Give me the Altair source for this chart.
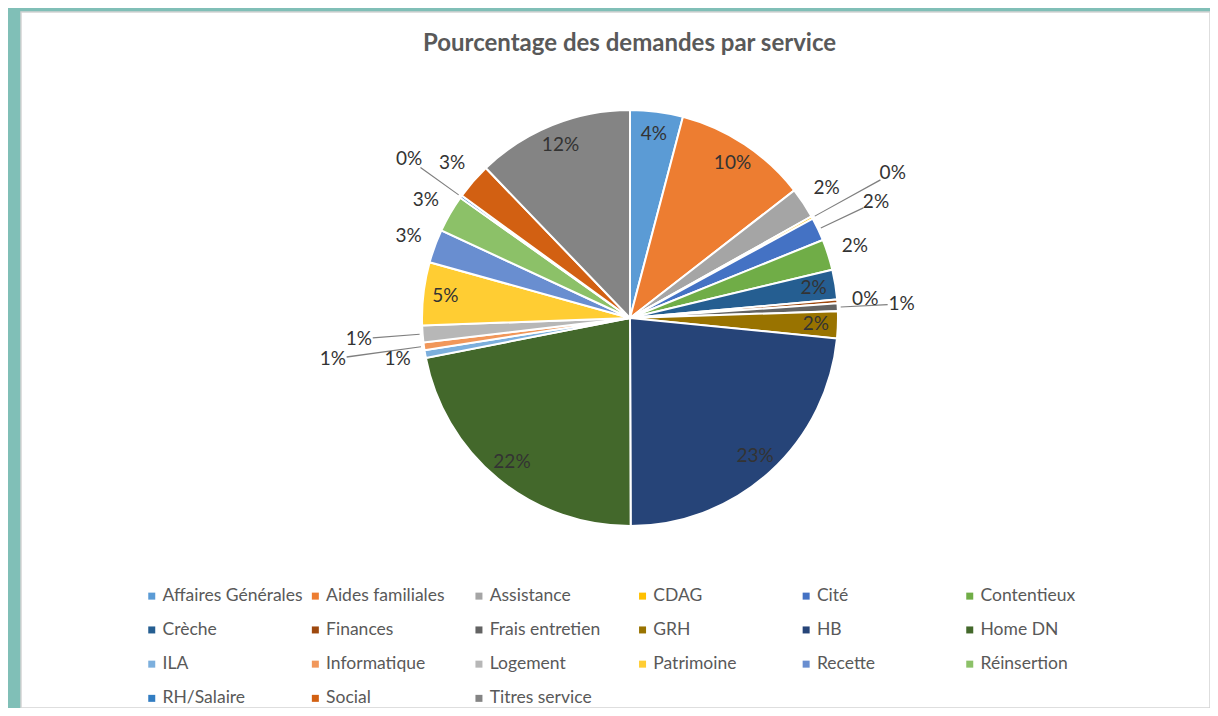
import altair as alt
import pandas as pd

# ---- data ----
services = [
    "Affaires Générales", "Aides familiales", "Assistance", "CDAG", "Cité", "Contentieux",
    "Crèche", "Finances", "Frais entretien", "GRH", "HB", "Home DN",
    "ILA", "Informatique", "Logement", "Patrimoine", "Recette", "Réinsertion",
    "RH/Salaire", "Social", "Titres service",
]
values = [4.1, 10.4, 2.4, 0.2, 1.8, 2.4,
          2.3, 0.3, 0.6, 2.1, 23.4, 22.0,
          0.6, 0.6, 1.3, 4.9, 2.6, 2.9,
          0.2, 2.8, 12.2]

# ---- styles ----
colors = [
    "#5B9BD5", "#ED7D31", "#A5A5A5", "#FFC000", "#4472C4", "#70AD47",
    "#255E91", "#9E480E", "#636363", "#997300", "#264478", "#43682B",
    "#7CAFDD", "#F1975A", "#B7B7B7", "#FFCD33", "#698ED0", "#8CC168",
    "#327DC2", "#D26012", "#848484",
]
# label placement mode per slice (as Excel's best-fit chose)
label_modes = [
    "in", "in", "out", "lead2", "lead", "out",
    "in", "out", "lead", "in", "in", "in",
    "out", "lead2", "lead", "in", "out", "out",
    "lead", "out", "in",
]

R = 208
CX, CY = 609, 306
FONT = "Lato"

df = pd.DataFrame({
    "service": services,
    "value": values,
    "idx": list(range(len(services))),
    "mode": label_modes,
})

base = (
    alt.Chart(df)
    .transform_joinaggregate(total="sum(value)")
    .transform_window(cum="sum(value)", sort=[alt.SortField("idx")], frame=[None, 0])
    .transform_calculate(
        a0="2*PI*(datum.cum - datum.value)/datum.total",
        a1="2*PI*datum.cum/datum.total",
        mid="2*PI*(datum.cum - datum.value/2)/datum.total",
        pct="datum.value/datum.total",
        lr=f"datum.mode == 'in' ? {R-22} : datum.mode == 'out' ? {R+28} : datum.mode == 'lead' ? {R+64} : {R+92}",
    )
)

color = alt.Color(
    "service:N",
    scale=alt.Scale(domain=services, range=colors),
    legend=alt.Legend(
        title=None, orient="none", legendX=122, legendY=575, columns=6,
        direction="horizontal",
        symbolType="square", symbolSize=49, symbolStrokeWidth=0, symbolOpacity=1,
        labelFont=FONT, labelFontSize=17.5, labelColor="#595959",
        rowPadding=15.2, columnPadding=3.6, gridAlign="all", labelOffset=2, padding=0,
        labelLimit=300,
    ),
)

arcs = base.mark_arc(outerRadius=R, stroke="white", strokeWidth=2).encode(
    theta=alt.Theta("a0:Q", scale=None),
    theta2=alt.Theta2("a1:Q"),
    color=color,
    order=alt.Order("idx:Q"),
    x=alt.value(CX), y=alt.value(CY),
)

leaders = (
    base.transform_filter("datum.mode == 'lead' || datum.mode == 'lead2'")
    .transform_calculate(l0="datum.mid - 0.0025", l1="datum.mid + 0.0025", r1="datum.lr - 14")
    .mark_arc(color="#7F7F7F")
    .encode(
        theta=alt.Theta("l0:Q", scale=None),
        theta2=alt.Theta2("l1:Q"),
        radius=alt.Radius("r1:Q", scale=None),
        radius2=alt.value(R + 3),
        x=alt.value(CX), y=alt.value(CY),
    )
)

labels = base.mark_text(font=FONT, fontSize=19, color="#333333", baseline="middle", align="center").encode(
    theta=alt.Theta("mid:Q", scale=None),
    radius=alt.Radius("lr:Q", scale=None),
    text=alt.Text("pct:Q", format=".0%"),
    x=alt.value(CX), y=alt.value(CY),
)

chart = (
    alt.layer(arcs, leaders, labels)
    .properties(
        width=1189, height=696,
        title=alt.TitleParams(
            "Pourcentage des demandes par service", font=FONT, fontSize=24,
            fontWeight="bold", color="#595959", anchor="middle", offset=-56,
            dx=14, baseline="middle",
        ),
        padding={"left": 13, "top": 4, "right": 0, "bottom": 0},
        autosize=alt.AutoSizeParams(type="none"),
        background="#80BFB7",
    )
    .configure_view(fill="white", stroke="#D4D4D4", strokeWidth=1.5)
)

chart.save("out.html", embed_options={"renderer": "svg", "actions": False})
